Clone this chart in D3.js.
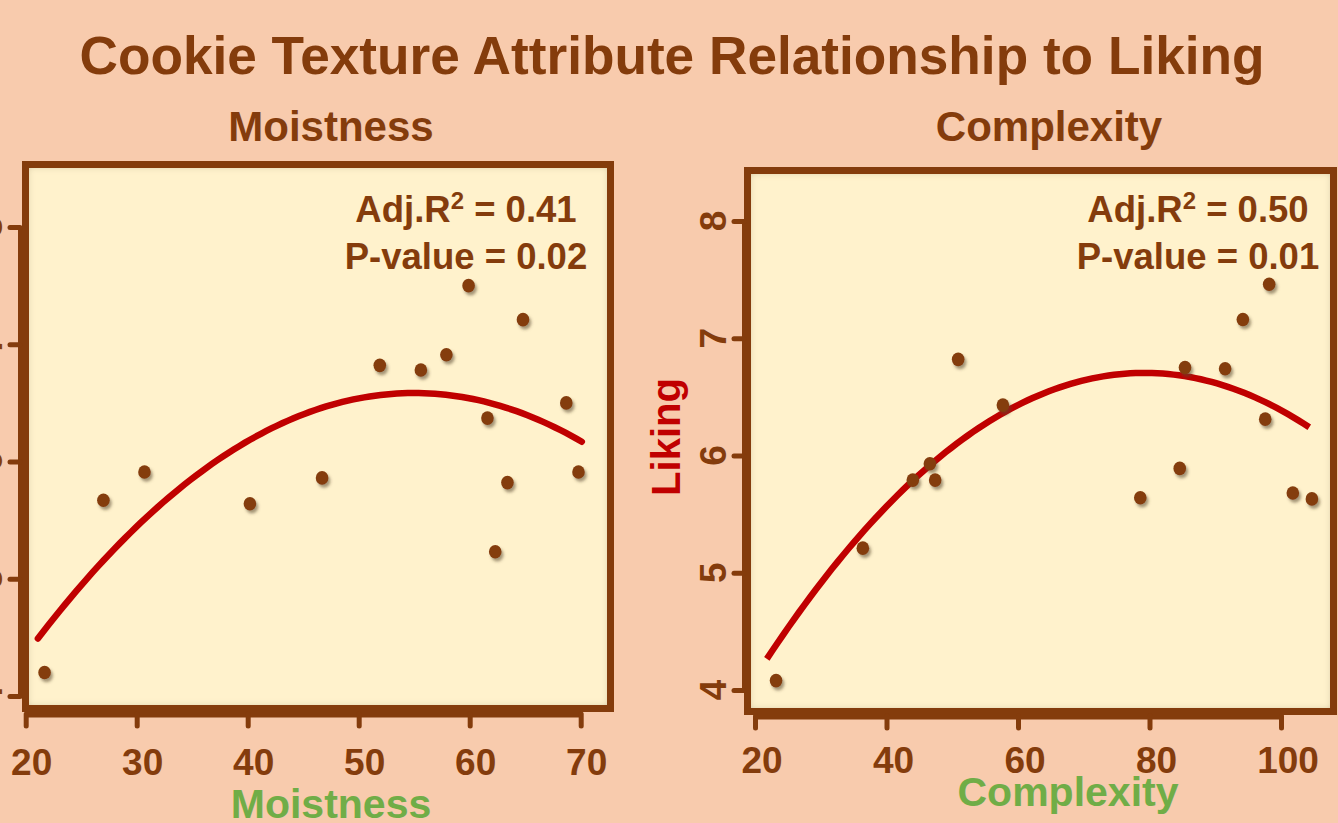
<!DOCTYPE html>
<html>
<head>
<meta charset="utf-8">
<script src="https://cdn.jsdelivr.net/npm/d3@7"></script>
<style>
html,body{margin:0;padding:0;background:#F8CBAD;overflow:hidden;}
svg{display:block;}
text{font-family:"Liberation Sans",Arial,sans-serif;font-weight:bold;}
</style>
</head>
<body>
<svg id="chart" width="1338" height="823"></svg>
<script>
// ---- data ----
const titleText = "Cookie Texture Attribute Relationship to Liking";
const panelTitles = ["Moistness", "Complexity"];
const xTitles = ["Moistness", "Complexity"];
const yTitle = "Liking";

const moistness   = [21.7, 27.0, 30.7, 40.2, 46.7, 51.9, 55.6, 57.9, 59.9, 61.6, 62.3, 63.4, 64.8, 68.7, 69.8];
const moistLiking = [4.20, 5.67, 5.91, 5.64, 5.86, 6.82, 6.78, 6.91, 7.50, 6.37, 5.23, 5.82, 7.21, 6.50, 5.91];

const complexity    = [23.2, 36.4, 44.0, 46.6, 47.4, 50.9, 57.7, 78.6, 84.6, 85.4, 91.5, 94.2, 97.6, 98.2, 101.8, 104.7];
const complexLiking = [4.08, 5.21, 5.79, 5.93, 5.79, 6.82, 6.43, 5.64, 5.89, 6.75, 6.74, 7.16, 6.31, 7.46, 5.68, 5.63];

// quadratic fit coefficients [intercept, linear, quadratic] and fitted x-range
const moistFit = [1.0724, 0.20042, -0.001822];
const moistFitRange = [21.1, 70.1];
const complexFit = [2.063, 0.11713, -0.000739];
const complexFitRange = [21.8, 104.3];

const moistTicks = [20, 30, 40, 50, 60, 70];
const complexTicks = [20, 40, 60, 80, 100];
const likingTicks = [4, 5, 6, 7, 8];

const stats = [["0.41", "0.02"], ["0.50", "0.01"]];

// ---- styles ----
const BROWN = "#843C0C", RED = "#C00000", GREEN = "#70AD47", CREAM = "#FFF2CC";

const svg = d3.select("#chart");
const defs = svg.append("defs");
const inset = defs.append("filter").attr("id", "inset").attr("x", "-5%").attr("y", "-5%").attr("width", "110%").attr("height", "110%");
inset.append("feFlood").attr("flood-color", "#6b4a10").attr("flood-opacity", 0.75).attr("result", "f");
inset.append("feComposite").attr("in", "f").attr("in2", "SourceAlpha").attr("operator", "out").attr("result", "o");
inset.append("feGaussianBlur").attr("in", "o").attr("stdDeviation", 4.5).attr("result", "b");
inset.append("feComposite").attr("in", "b").attr("in2", "SourceAlpha").attr("operator", "in").attr("result", "s");
const im = inset.append("feMerge");
im.append("feMergeNode").attr("in", "SourceGraphic");
im.append("feMergeNode").attr("in", "s");

const ds = defs.append("filter").attr("id", "dshadow").attr("x", "-50%").attr("y", "-50%").attr("width", "200%").attr("height", "200%");
ds.append("feDropShadow").attr("dx", 2).attr("dy", 3).attr("stdDeviation", 1.8).attr("flood-color", "#5a4a30").attr("flood-opacity", 0.55);

// title
svg.append("text").attr("x", 672).attr("y", 74).attr("text-anchor", "middle")
  .attr("font-size", 54).attr("fill", BROWN).attr("textLength", 1185).attr("lengthAdjust", "spacingAndGlyphs")
  .text(titleText);

const panels = [
  { title: panelTitles[0], titleX: 331, xt: xTitles[0], xtX: 331, xtY: 818,
    xs: moistness, ys: moistLiking, fit: moistFit, fr: moistFitRange, xticks: moistTicks,
    x: d3.scaleLinear().domain([20, 70]).range([25.7, 580.7]),
    y: d3.scaleLinear().domain([4, 8]).range([696, 227]),
    frame: [25.5, 164.5, 585, 544], axisY: 714, axisX: 20, lblY: 775, lblDx: 6, statX: 466, capRound: true },
  { title: panelTitles[1], titleX: 1049, xt: xTitles[1], xtX: 1068, xtY: 806,
    xs: complexity, ys: complexLiking, fit: complexFit, fr: complexFitRange, xticks: complexTicks,
    x: d3.scaleLinear().domain([20, 100]).range([755, 1281]),
    y: d3.scaleLinear().domain([4, 8]).range([690, 221]),
    frame: [747.5, 170.5, 586, 541], axisY: 716, axisX: 744, lblY: 773, lblDx: 7, statX: 1198, capRound: false }
];

panels.forEach((p, i) => {
  const g = svg.append("g");
  // panel title
  g.append("text").attr("x", p.titleX).attr("y", 141).attr("text-anchor", "middle")
    .attr("font-size", 42).attr("fill", BROWN).text(p.title);

  // frame fill with inner shadow
  const [fx, fy, fw, fh] = p.frame;
  g.append("rect").attr("x", fx).attr("y", fy).attr("width", fw).attr("height", fh)
    .attr("fill", CREAM).attr("filter", "url(#inset)");
  g.append("rect").attr("x", fx).attr("y", fy).attr("width", fw).attr("height", fh)
    .attr("fill", "none").attr("stroke", BROWN).attr("stroke-width", 7);

  // x axis
  const xa = g.append("g").attr("transform", `translate(0,${p.axisY})`)
    .call(d3.axisBottom(p.x).tickValues(p.xticks).tickSize(12).tickSizeOuter(0).tickFormat(""));
  xa.select(".domain").attr("stroke", BROWN).attr("stroke-width", 6);
  xa.selectAll(".tick line").attr("stroke", BROWN).attr("stroke-width", 5).attr("stroke-linecap", "round");
  p.xticks.forEach(t => {
    g.append("text").attr("x", p.x(t) + p.lblDx).attr("y", p.lblY)
      .attr("text-anchor", "middle").attr("font-size", 37).attr("fill", BROWN).text(t);
  });

  // y axis
  const ya = g.append("g").attr("transform", `translate(${p.axisX},0)`)
    .call(d3.axisLeft(p.y).tickValues(likingTicks).tickSize(10).tickSizeOuter(0).tickFormat(""));
  ya.select(".domain").attr("stroke", BROWN).attr("stroke-width", 5);
  ya.selectAll(".tick line").attr("stroke", BROWN).attr("stroke-width", 5).attr("stroke-linecap", "round");
  likingTicks.forEach(t => {
    g.append("text").attr("transform", `translate(${p.axisX - 18},${p.y(t)}) rotate(-90)`)
      .attr("text-anchor", "middle").attr("font-size", 37).attr("fill", BROWN).text(t);
  });

  // x title
  g.append("text").attr("x", p.xtX).attr("y", p.xtY).attr("text-anchor", "middle")
    .attr("font-size", 41).attr("fill", GREEN).text(p.xt);

  // fitted curve
  const xsamp = d3.range(0, 101).map(k => p.fr[0] + (p.fr[1] - p.fr[0]) * k / 100);
  const line = d3.line().x(d => p.x(d)).y(d => p.y(p.fit[0] + p.fit[1] * d + p.fit[2] * d * d)).curve(d3.curveLinear);
  g.append("path").datum(xsamp).attr("d", line).attr("fill", "none").attr("stroke", RED)
    .attr("stroke-width", 6.5).attr("stroke-linecap", p.capRound ? "round" : "butt");

  // points
  g.append("g").attr("filter", "url(#dshadow)").selectAll("ellipse")
    .data(p.xs.map((v, k) => [v, p.ys[k]])).join("ellipse")
    .attr("cx", d => p.x(d[0])).attr("cy", d => p.y(d[1]))
    .attr("rx", 6.3).attr("ry", 6.8).attr("fill", BROWN);

  // stats
  const st = g.append("text").attr("x", p.statX).attr("y", 222).attr("text-anchor", "middle")
    .attr("font-size", 36.5).attr("fill", BROWN);
  st.append("tspan").text("Adj.R");
  st.append("tspan").attr("font-size", 24).attr("dy", -13).text("2");
  st.append("tspan").attr("dy", 13).text(" = " + stats[i][0]);
  g.append("text").attr("x", p.statX).attr("y", 269).attr("text-anchor", "middle")
    .attr("font-size", 36.5).attr("fill", BROWN).text("P-value = " + stats[i][1]);
});

// y title (right panel)
svg.append("text").attr("transform", "translate(680,437) rotate(-90)").attr("text-anchor", "middle")
  .attr("font-size", 40).attr("fill", RED).text(yTitle);
</script>
</body>
</html>
